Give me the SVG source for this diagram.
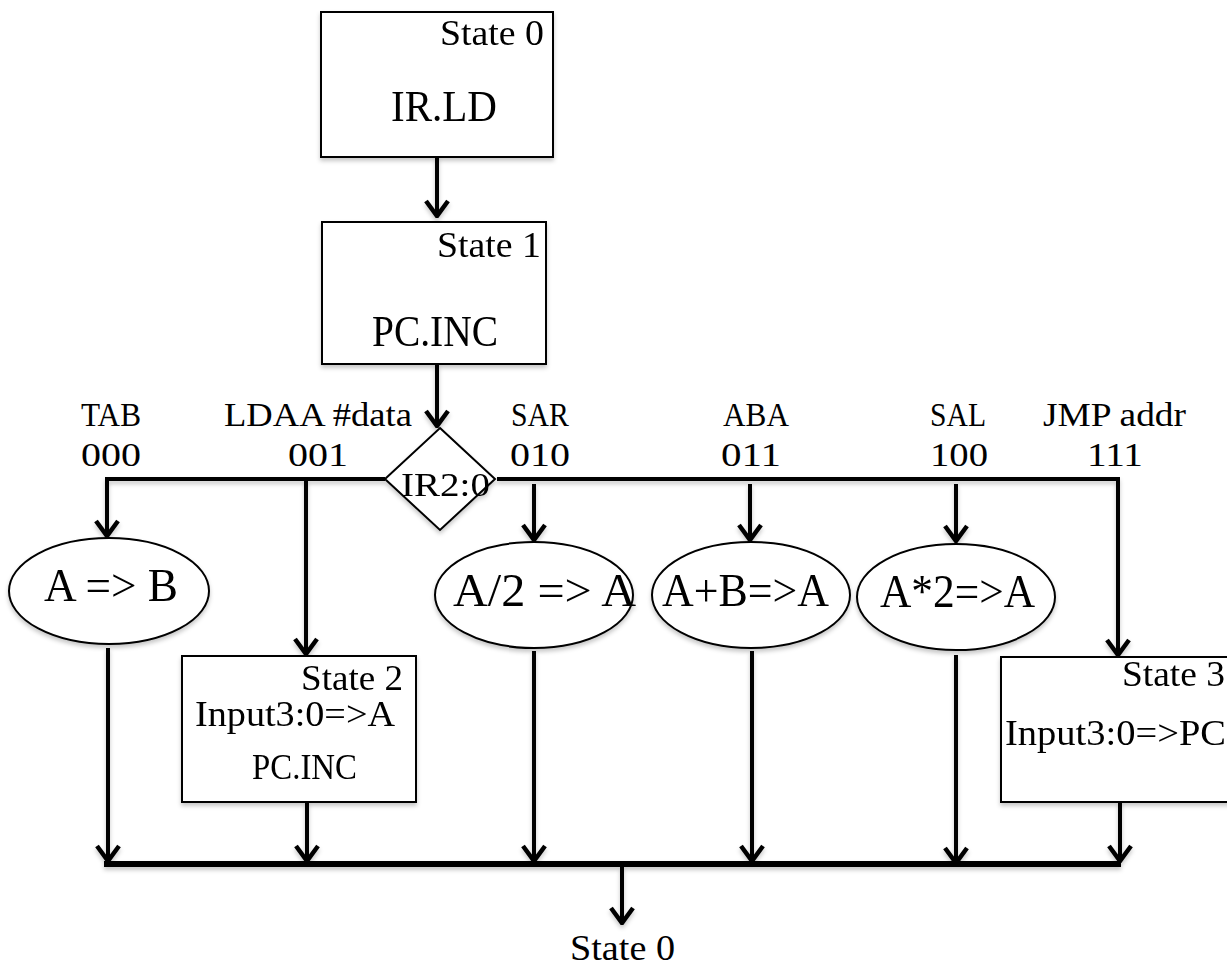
<svg xmlns="http://www.w3.org/2000/svg" width="1227" height="968" viewBox="0 0 1227 968">
<style>
.box{fill:#fff;stroke:#000;stroke-width:2}
.ell{fill:#fff;stroke:#000;stroke-width:2}
.w{stroke:#000;stroke-width:4;fill:none}
.bus{stroke:#000;stroke-width:6;fill:none}
text{font-family:"Liberation Serif","Times New Roman",serif;fill:#000}
.st{font-size:35px}
.big{font-size:44px}
.lab{font-size:34px}
.op{font-size:46px}
</style>
<defs>
<filter id="sh" x="-10%" y="-10%" width="130%" height="130%">
<feDropShadow dx="0" dy="3" stdDeviation="2" flood-color="#000" flood-opacity="0.22"/>
</filter>
<marker id="ah" markerUnits="userSpaceOnUse" viewBox="-18 -14 20 28" refX="0" refY="0" markerWidth="20" markerHeight="28" orient="auto">
<path d="M-15,-11 L0,0 L-15,11" fill="none" stroke="#000" stroke-width="4.5"/>
</marker>
</defs>

<g id="connectors" filter="url(#sh)">
<line class="w" x1="437" y1="157" x2="437" y2="216" marker-end="url(#ah)"/>
<line class="w" x1="437" y1="364" x2="437" y2="426" marker-end="url(#ah)"/>
<polyline class="w" points="385,479 107,479 107,536" marker-end="url(#ah)"/>
<line class="w" x1="306" y1="479" x2="306" y2="654" marker-end="url(#ah)"/>
<polyline class="w" points="497,479 1118,479 1118,655" marker-end="url(#ah)"/>
<line class="w" x1="534" y1="484" x2="534" y2="540" marker-end="url(#ah)"/>
<line class="w" x1="750" y1="484" x2="750" y2="540" marker-end="url(#ah)"/>
<line class="w" x1="956" y1="484" x2="956" y2="541" marker-end="url(#ah)"/>
<line class="w" x1="108" y1="648" x2="108" y2="861" marker-end="url(#ah)"/>
<line class="w" x1="307" y1="802" x2="307" y2="861" marker-end="url(#ah)"/>
<line class="w" x1="534" y1="651" x2="534" y2="861" marker-end="url(#ah)"/>
<line class="w" x1="752" y1="651" x2="752" y2="861" marker-end="url(#ah)"/>
<line class="w" x1="956" y1="655" x2="956" y2="863" marker-end="url(#ah)"/>
<line class="w" x1="1120" y1="802" x2="1120" y2="861" marker-end="url(#ah)"/>
<line class="bus" x1="104" y1="864" x2="1121" y2="864"/>
<line class="w" x1="622" y1="864" x2="622" y2="923" marker-end="url(#ah)"/>
</g>

<g id="state0" filter="url(#sh)">
<rect class="box" x="321" y="12" width="232" height="145"/>
<text class="st" x="440" y="45" textLength="104" lengthAdjust="spacingAndGlyphs">State 0</text>
<text class="big" x="391" y="121" textLength="106" lengthAdjust="spacingAndGlyphs">IR.LD</text>
</g>

<g id="state1" filter="url(#sh)">
<rect class="box" x="322" y="222" width="224" height="142"/>
<text class="st" x="437" y="257" textLength="104" lengthAdjust="spacingAndGlyphs">State 1</text>
<text class="big" x="372" y="346" textLength="126" lengthAdjust="spacingAndGlyphs">PC.INC</text>
</g>

<g id="decision" filter="url(#sh)">
<polygon class="box" points="440,428 495,479 440,530 385,479"/>
<text class="lab" x="401" y="496" textLength="89" lengthAdjust="spacingAndGlyphs">IR2:0</text>
</g>

<g id="labels">
<text class="lab" x="81" y="426" textLength="60" lengthAdjust="spacingAndGlyphs">TAB</text>
<text class="lab" x="81" y="466" textLength="60" lengthAdjust="spacingAndGlyphs">000</text>
<text class="lab" x="224" y="426" textLength="188" lengthAdjust="spacingAndGlyphs">LDAA #data</text>
<text class="lab" x="288" y="466" textLength="60" lengthAdjust="spacingAndGlyphs">001</text>
<text class="lab" x="511" y="426" textLength="58" lengthAdjust="spacingAndGlyphs">SAR</text>
<text class="lab" x="510" y="466" textLength="60" lengthAdjust="spacingAndGlyphs">010</text>
<text class="lab" x="723" y="426" textLength="66" lengthAdjust="spacingAndGlyphs">ABA</text>
<text class="lab" x="721" y="466" textLength="60" lengthAdjust="spacingAndGlyphs">011</text>
<text class="lab" x="930" y="426" textLength="56" lengthAdjust="spacingAndGlyphs">SAL</text>
<text class="lab" x="930" y="466" textLength="58" lengthAdjust="spacingAndGlyphs">100</text>
<text class="lab" x="1043" y="426" textLength="143" lengthAdjust="spacingAndGlyphs">JMP addr</text>
<text class="lab" x="1087" y="466" textLength="56" lengthAdjust="spacingAndGlyphs">111</text>
</g>

<g id="tab" filter="url(#sh)">
<ellipse class="ell" cx="109" cy="591" rx="100" ry="53"/>
<text class="op" x="44" y="601" textLength="134" lengthAdjust="spacingAndGlyphs">A =&gt; B</text>
</g>

<g id="sar" filter="url(#sh)">
<ellipse class="ell" cx="534" cy="595" rx="99" ry="53"/>
<text class="op" x="453" y="606" textLength="183" lengthAdjust="spacingAndGlyphs">A/2 =&gt; A</text>
</g>

<g id="aba" filter="url(#sh)">
<ellipse class="ell" cx="751" cy="595" rx="99" ry="53"/>
<text class="op" x="662" y="606" textLength="167" lengthAdjust="spacingAndGlyphs">A+B=&gt;A</text>
</g>

<g id="sal" filter="url(#sh)">
<ellipse class="ell" cx="956" cy="597" rx="99" ry="53"/>
<text class="op" x="880" y="607" textLength="155" lengthAdjust="spacingAndGlyphs">A*2=&gt;A</text>
</g>

<g id="state2" filter="url(#sh)">
<rect class="box" x="182" y="656" width="234" height="146"/>
<text class="st" x="301" y="690" textLength="102" lengthAdjust="spacingAndGlyphs">State 2</text>
<text class="st" x="195" y="726" textLength="200" lengthAdjust="spacingAndGlyphs">Input3:0=&gt;A</text>
<text class="st" x="252" y="779" textLength="105" lengthAdjust="spacingAndGlyphs">PC.INC</text>
</g>

<g id="state3" filter="url(#sh)">
<rect class="box" x="1001" y="657" width="240" height="145"/>
<text class="st" x="1122" y="686" textLength="103" lengthAdjust="spacingAndGlyphs">State 3</text>
<text class="st" x="1005" y="745" textLength="221" lengthAdjust="spacingAndGlyphs">Input3:0=&gt;PC</text>
</g>

<g id="end">
<text class="st" x="570" y="960" textLength="105" lengthAdjust="spacingAndGlyphs">State 0</text>
</g>
</svg>
